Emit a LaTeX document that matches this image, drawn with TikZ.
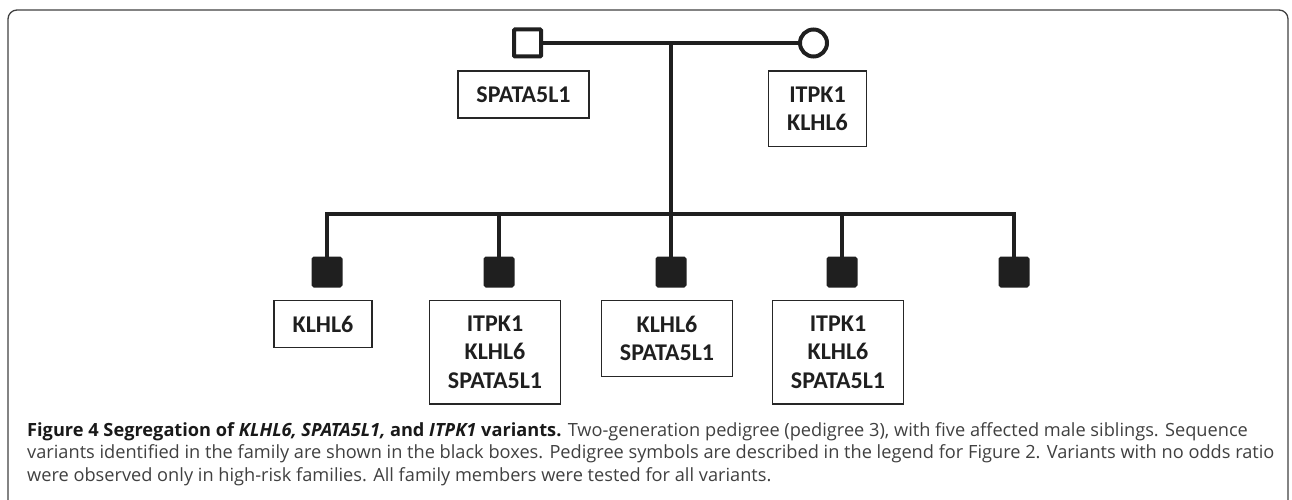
\documentclass[tikz,border=0pt]{standalone}
\usepackage{fontspec}
\setmainfont{Carlito}
\newfontfamily\capfont{Open Sans}
\usetikzlibrary{positioning}
\begin{document}
\begin{tikzpicture}[x=1pt,y=-1pt]
	\tikzstyle{ped} = [draw=black!88, line width=4]
	\tikzstyle{male} = [shape=rectangle, minimum size=27, inner sep=0, rounded corners=1, ped]
	\tikzstyle{female} = [shape=circle, minimum size=27, inner sep=0, ped]
	\tikzstyle{affected} = [male, fill=black!88]
	\tikzstyle{variants} = [draw=black!85, line width=1.3, inner xsep=18.5, inner ysep=15.5, align=center,
			font=\bfseries\fontsize{24}{28.5}\selectfont, text=black!88]
	\tikzstyle{captionline} = [anchor=base west, inner sep=0, font=\capfont\fontsize{18.2}{22.5}\selectfont, text=black!75]

	\useasboundingbox (0,0) rectangle (1292,500);
	\draw [black!75, line width=1.3, rounded corners=9] (8,500) -- (8,10) -- (1288,10) -- (1288,500);

	% parents
	\node [male] (father) at (527.5,43) {};
	\node [female] (mother) at (813.5,43) {};
	\coordinate (mid) at (671,43);
	\coordinate (sib) at (671,214);
	\node [variants, below=12pt of father, xshift=-4pt] (vfather) {SPATA5L1};
	\node [variants, below=12pt of mother, xshift=4pt] (vmother) {ITPK1\\KLHL6};

	% siblings
	\node [affected] (c1) at (327,272) {};
	\node [affected] (c2) at (499,272) {};
	\node [affected] (c3) at (671,272) {};
	\node [affected] (c4) at (842,272) {};
	\node [affected] (c5) at (1014,272) {};
	\node [variants, below=12pt of c1, xshift=-4pt] (v1) {KLHL6};
	\node [variants, below=12pt of c2, xshift=-4pt] (v2) {ITPK1\\KLHL6\\SPATA5L1};
	\node [variants, below=12pt of c3, xshift=-4pt] (v3) {KLHL6\\SPATA5L1};
	\node [variants, below=12pt of c4, xshift=-4pt] (v4) {ITPK1\\KLHL6\\SPATA5L1};

	\draw [ped] (father) -- (mother);
	\draw [ped] (mid) -- (sib);
	\draw [ped] (c1) |- (sib) -| (c5);
	\draw [ped] (c2) -- (c2 |- sib);
	\draw [ped] (c3) -- (sib);
	\draw [ped] (c4) -- (c4 |- sib);

	% caption
	\node [captionline] (cap1) at (27,436) {\textcolor{black!90}{\textbf{Figure 4 Segregation of \textit{KLHL6, SPATA5L1,} and \textit{ITPK1} variants.}} Two-generation pedigree (pedigree 3), with five affected male siblings. Sequence};
	\node [captionline] (cap2) at (27,458.5) {variants identified in the family are shown in the black boxes. Pedigree symbols are described in the legend for Figure 2. Variants with no odds ratio};
	\node [captionline] (cap3) at (27,481) {were observed only in high-risk families. All family members were tested for all variants.};
\end{tikzpicture}
\end{document}
